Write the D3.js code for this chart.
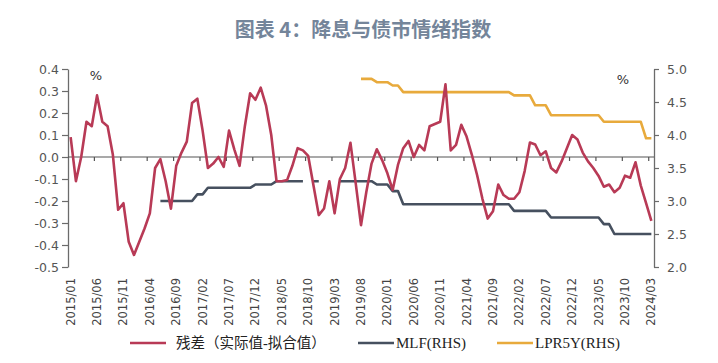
<!DOCTYPE html>
<html>
<head>
<meta charset="utf-8">
<script src="https://cdn.jsdelivr.net/npm/d3@7"></script>
<style>
  body { margin: 0; background: #fff; }
  svg { display: block; }
</style>
</head>
<body>
<div id="chart"></div>
<script>
// months 2015/01 .. 2024/03
const months = d3.timeMonth
  .range(new Date(2015, 0, 1), new Date(2024, 3, 1))
  .map(d3.timeFormat('%Y/%m'));

// 残差（实际值-拟合值），left axis
const residual = [
  0.09, -0.11, 0.00, 0.16, 0.14, 0.28, 0.16, 0.14, 0.01, -0.24,
  -0.21, -0.385, -0.445, -0.385, -0.325, -0.256, -0.05, -0.01, -0.11, -0.235,
  -0.04, 0.02, 0.07, 0.245, 0.265, 0.12, -0.05, -0.03, 0.00, -0.045,
  0.12, 0.035, -0.04, 0.14, 0.29, 0.26, 0.315, 0.235, 0.10, -0.11,
  -0.11, -0.105, -0.04, 0.04, 0.03, 0.005, -0.13, -0.264, -0.234, -0.11,
  -0.256, -0.10, -0.05, 0.065, -0.12, -0.31, -0.16, -0.03, 0.035, -0.014,
  -0.074, -0.15, -0.036, 0.04, 0.073, 0.00, 0.055, 0.03, 0.14, 0.15,
  0.16, 0.33, 0.03, 0.055, 0.146, 0.093, 0.01, -0.083, -0.19, -0.28,
  -0.247, -0.125, -0.173, -0.19, -0.19, -0.16, -0.064, 0.066, 0.057, 0.008,
  0.026, -0.05, -0.07, -0.02, 0.04, 0.10, 0.08, 0.02, -0.02, -0.05,
  -0.086, -0.135, -0.125, -0.16, -0.14, -0.085, -0.094, -0.024, -0.13, -0.21,
  -0.29
];

// MLF (RHS)
const mlf = [
  null, null, null, null, null, null, null, null, null, null,
  null, null, null, null, null, null, null, 3.00, 3.00, 3.00,
  3.00, 3.00, 3.00, 3.00, 3.10, 3.10, 3.20, 3.20, 3.20, 3.20,
  3.20, 3.20, 3.20, 3.20, 3.20, 3.25, 3.25, 3.25, 3.25, 3.30,
  3.30, 3.30, 3.30, 3.30, 3.30, null, 3.30, 3.30, null, null,
  null, 3.30, 3.30, 3.30, 3.30, 3.30, 3.30, 3.30, 3.25, 3.25,
  3.25, 3.15, 3.15, 2.95, 2.95, 2.95, 2.95, 2.95, 2.95, 2.95,
  2.95, 2.95, 2.95, 2.95, 2.95, 2.95, 2.95, 2.95, 2.95, 2.95,
  2.95, 2.95, 2.95, 2.95, 2.85, 2.85, 2.85, 2.85, 2.85, 2.85,
  2.85, 2.75, 2.75, 2.75, 2.75, 2.75, 2.75, 2.75, 2.75, 2.75,
  2.75, 2.65, 2.65, 2.50, 2.50, 2.50, 2.50, 2.50, 2.50, 2.50,
  2.50
];

// LPR5Y (RHS)
const lpr = [
  null, null, null, null, null, null, null, null, null, null,
  null, null, null, null, null, null, null, null, null, null,
  null, null, null, null, null, null, null, null, null, null,
  null, null, null, null, null, null, null, null, null, null,
  null, null, null, null, null, null, null, null, null, null,
  null, null, null, null, null, 4.85, 4.85, 4.85, 4.80, 4.80,
  4.80, 4.75, 4.75, 4.65, 4.65, 4.65, 4.65, 4.65, 4.65, 4.65,
  4.65, 4.65, 4.65, 4.65, 4.65, 4.65, 4.65, 4.65, 4.65, 4.65,
  4.65, 4.65, 4.65, 4.65, 4.60, 4.60, 4.60, 4.60, 4.45, 4.45,
  4.45, 4.30, 4.30, 4.30, 4.30, 4.30, 4.30, 4.30, 4.30, 4.30,
  4.30, 4.20, 4.20, 4.20, 4.20, 4.20, 4.20, 4.20, 4.20, 3.95,
  3.95
];

const leftTicks = [-0.5, -0.4, -0.3, -0.2, -0.1, 0.0, 0.1, 0.2, 0.3, 0.4];
const rightTicks = [2.0, 2.5, 3.0, 3.5, 4.0, 4.5, 5.0];
const legendNames = ['残差（实际值-拟合值）', 'MLF(RHS)', 'LPR5Y(RHS)'];
const colors = ['#b83a56', '#46505f', '#e8aa3c'];

const W = 718, H = 363;
const plot = { left: 68, right: 654, top: 69, bottom: 267 };

const svg = d3.select('#chart').append('svg')
  .attr('width', W).attr('height', H);

// title
svg.append('text')
  .attr('x', 363).attr('y', 37)
  .attr('text-anchor', 'middle')
  .style('font-family', '"Noto Sans CJK SC", sans-serif')
  .style('font-weight', 'bold')
  .style('font-size', '20px')
  .style('fill', '#74859a')
  .text('图表 4：降息与债市情绪指数');

const x = d3.scaleBand().domain(months).range([plot.left, plot.right]);
const cx = i => x(months[i]) + x.bandwidth() / 2;
const yL = d3.scaleLinear().domain([-0.5, 0.4]).range([plot.bottom, plot.top]);
const yR = d3.scaleLinear().domain([2.0, 5.0]).range([plot.bottom, plot.top]);

// left axis
const axL = svg.append('g')
  .attr('transform', `translate(${plot.left},0)`)
  .call(d3.axisLeft(yL).tickValues(leftTicks).tickFormat(d => d.toFixed(1))
    .tickSize(6).tickSizeOuter(0).tickPadding(3));

// right axis
const axR = svg.append('g')
  .attr('transform', `translate(${plot.right},0)`)
  .call(d3.axisRight(yR).tickValues(rightTicks).tickFormat(d => d.toFixed(1))
    .tickSize(5).tickSizeOuter(0).tickPadding(8));

[axL, axR].forEach(ax => {
  ax.select('.domain').attr('stroke', '#6b6b6b').attr('stroke-width', 1.3);
  ax.selectAll('.tick line').attr('stroke', '#6b6b6b').attr('stroke-width', 1.2);
  ax.selectAll('.tick text')
    .style('font-family', '"DejaVu Sans", sans-serif')
    .style('font-size', '12.5px')
    .style('fill', '#555');
});

// zero line with category ticks
const zeroY = yL(0);
svg.append('line')
  .attr('x1', plot.left).attr('x2', plot.right)
  .attr('y1', zeroY).attr('y2', zeroY)
  .attr('stroke', '#555').attr('stroke-width', 1.2);

svg.append('g').selectAll('line')
  .data(months.filter((d, i) => i > 0 && i % 5 === 0))
  .join('line')
  .attr('x1', d => x(d)).attr('x2', d => x(d))
  .attr('y1', zeroY).attr('y2', zeroY + 4)
  .attr('stroke', '#555').attr('stroke-width', 1.2);

// x labels, rotated
svg.append('g').selectAll('text')
  .data(months.filter((d, i) => i % 5 === 0))
  .join('text')
  .attr('transform', d => `translate(${x(d) + x.bandwidth() / 2 + 4},${plot.bottom + 11}) rotate(-90)`)
  .attr('text-anchor', 'end')
  .style('font-family', '"DejaVu Sans", sans-serif')
  .style('font-size', '11.5px')
  .style('fill', '#444')
  .text(d => d);

// % units
svg.append('text').attr('x', 96).attr('y', 80).attr('text-anchor', 'middle')
  .style('font-family', '"DejaVu Sans", sans-serif').style('font-size', '13px').style('fill', '#333')
  .text('%');
svg.append('text').attr('x', 623).attr('y', 84).attr('text-anchor', 'middle')
  .style('font-family', '"DejaVu Sans", sans-serif').style('font-size', '13px').style('fill', '#333')
  .text('%');

// lines
const lineL = d3.line().defined(d => d != null).x((d, i) => cx(i)).y(d => yL(d));
const lineR = d3.line().defined(d => d != null).x((d, i) => cx(i)).y(d => yR(d));

svg.append('path').datum(lpr)
  .attr('d', lineR).attr('fill', 'none')
  .attr('stroke', colors[2]).attr('stroke-width', 2.6).attr('stroke-linejoin', 'round');
svg.append('path').datum(mlf)
  .attr('d', lineR).attr('fill', 'none')
  .attr('stroke', colors[1]).attr('stroke-width', 2.6).attr('stroke-linejoin', 'round');
svg.append('path').datum(residual)
  .attr('d', lineL).attr('fill', 'none')
  .attr('stroke', colors[0]).attr('stroke-width', 2.6).attr('stroke-linejoin', 'round');

// legend
const legendX = [130, 358, 497];
const leg = svg.append('g').selectAll('g')
  .data(legendNames)
  .join('g')
  .attr('transform', (d, i) => `translate(${legendX[i]},343)`);
leg.append('line')
  .attr('x1', 0).attr('x2', 36).attr('y1', 0).attr('y2', 0)
  .attr('stroke', (d, i) => colors[i]).attr('stroke-width', 2.6);
leg.append('text')
  .attr('x', (d, i) => i === 0 ? 46 : 38).attr('y', 5)
  .style('font-family', '"Liberation Serif", "Noto Sans CJK SC", serif')
  .style('font-size', (d, i) => i === 0 ? '14.5px' : '15px')
  .style('fill', '#222')
  .text(d => d);
</script>
</body>
</html>
